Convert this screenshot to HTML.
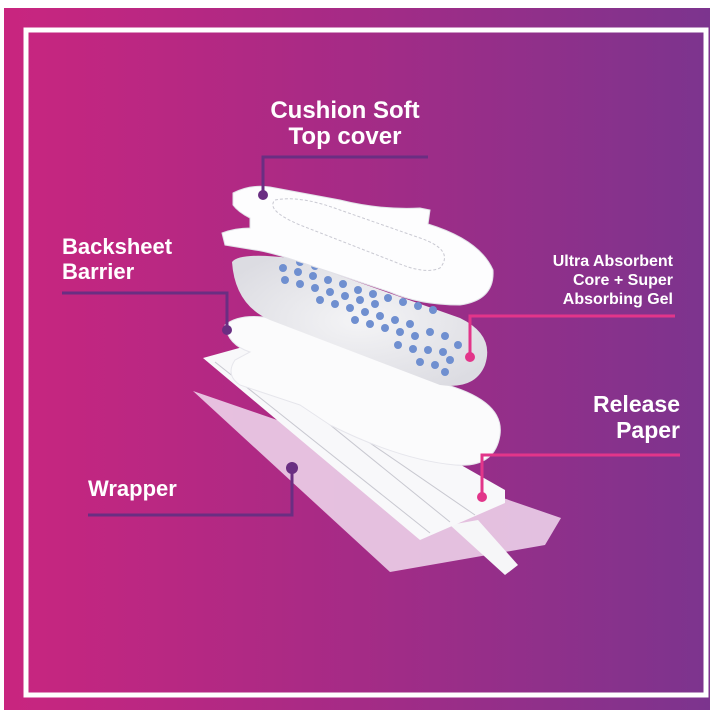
<!DOCTYPE html>
<html><head><style>
html,body{margin:0;padding:0;background:#fff;}
svg{display:block;}
text{font-family:"Liberation Sans",sans-serif;font-weight:bold;fill:#fff;}
</style></head><body>
<svg width="710" height="710" viewBox="0 0 710 710">
<defs>
<linearGradient id="bg" x1="0" y1="0" x2="1" y2="0">
<stop offset="0" stop-color="#c9257f"/><stop offset="0.5" stop-color="#a52b86"/><stop offset="1" stop-color="#7c348e"/>
</linearGradient>
<radialGradient id="core" cx="0.5" cy="0.5" r="0.6">
<stop offset="0" stop-color="#f4f4f6"/><stop offset="1" stop-color="#dcdce2"/>
</radialGradient>
</defs>
<rect x="4" y="8" width="706" height="702" fill="url(#bg)"/>
<rect x="26" y="30" width="680" height="665" fill="none" stroke="#fff" stroke-width="5"/>

<!-- wrapper -->
<polygon points="193,391 561,518 545,545 390,572" fill="#ecd0e9" opacity="0.9"/>
<!-- strip -->
<polygon points="450,525 478,520 518,565 505,575" fill="#f6f6f8"/>
<!-- release paper -->
<polygon points="203,358 250,345 505,490 505,503 420,540" fill="#f8f8fa"/>
<g stroke="#c8c8d0" stroke-width="1" fill="none">
<line x1="215" y1="362" x2="430" y2="533"/><line x1="250" y1="360" x2="450" y2="522"/><line x1="300" y1="395" x2="475" y2="515"/>
</g>
<!-- backsheet -->
<path d="M225,325 Q240,313 270,318 L440,383 Q505,400 500,435 Q495,468 455,465 Q400,460 330,425 L300,405 L240,385 Q225,375 235,360 L250,352 Q228,345 225,325 Z" fill="#fbfbfc" stroke="#e6e6ec"/>
<!-- core -->
<path d="M232,262 Q240,252 290,258 L460,318 Q495,335 485,365 Q475,390 440,385 L270,320 Q235,305 232,262 Z" fill="url(#core)"/>
<g fill="#6f8fd0">
<circle cx="300" cy="262" r="4"/><circle cx="315" cy="266" r="4"/><circle cx="283" cy="268" r="4"/><circle cx="298" cy="272" r="4"/><circle cx="313" cy="276" r="4"/><circle cx="328" cy="280" r="4"/><circle cx="343" cy="284" r="4"/>
<circle cx="285" cy="280" r="4"/><circle cx="300" cy="284" r="4"/><circle cx="315" cy="288" r="4"/><circle cx="330" cy="292" r="4"/><circle cx="345" cy="296" r="4"/><circle cx="360" cy="300" r="4"/><circle cx="375" cy="304" r="4"/>
<circle cx="320" cy="300" r="4"/><circle cx="335" cy="304" r="4"/><circle cx="350" cy="308" r="4"/><circle cx="365" cy="312" r="4"/><circle cx="380" cy="316" r="4"/><circle cx="395" cy="320" r="4"/><circle cx="410" cy="324" r="4"/>
<circle cx="358" cy="290" r="4"/><circle cx="373" cy="294" r="4"/><circle cx="388" cy="298" r="4"/><circle cx="403" cy="302" r="4"/><circle cx="418" cy="306" r="4"/><circle cx="433" cy="310" r="4"/>
<circle cx="355" cy="320" r="4"/><circle cx="370" cy="324" r="4"/><circle cx="385" cy="328" r="4"/><circle cx="400" cy="332" r="4"/><circle cx="415" cy="336" r="4"/><circle cx="430" cy="332" r="4"/><circle cx="445" cy="336" r="4"/>
<circle cx="398" cy="345" r="4"/><circle cx="413" cy="349" r="4"/><circle cx="428" cy="350" r="4"/><circle cx="443" cy="352" r="4"/><circle cx="458" cy="345" r="4"/>
<circle cx="420" cy="362" r="4"/><circle cx="435" cy="365" r="4"/><circle cx="450" cy="360" r="4"/><circle cx="445" cy="372" r="4"/>
</g>
<!-- top cover -->
<path d="M233,193 Q250,184 270,187 L340,200 Q380,210 420,208 L430,210 L428,224 Q480,240 493,270 Q495,300 460,305 Q420,305 390,292 L300,262 Q270,252 255,250 L225,245 L222,233 Q235,228 250,228 L250,218 Q238,212 233,205 Z" fill="#fdfdfe" stroke="#e2e2e8"/>
<path d="M275,200 Q300,195 340,210 L420,238 Q455,250 440,268 Q425,275 395,262 L300,225 Q265,210 275,200 Z" fill="none" stroke="#c9c9d2" stroke-dasharray="3,2"/>

<!-- leaders -->
<g fill="none" stroke-width="3">
<polyline points="428,157 263,157 263,195" stroke="#6a2e82"/>
<polyline points="62,293 227,293 227,330" stroke="#6a2e82"/>
<polyline points="675,316 470,316 470,356" stroke="#e2358a"/>
<polyline points="680,455 482,455 482,497" stroke="#e2358a"/>
<polyline points="88,515 292,515 292,470" stroke="#6a2e82"/>
</g>
<circle cx="263" cy="195" r="5" fill="#6a2e82"/>
<circle cx="227" cy="330" r="5" fill="#6a2e82"/>
<circle cx="470" cy="357" r="5" fill="#e2358a"/>
<circle cx="482" cy="497" r="5" fill="#e2358a"/>
<circle cx="292" cy="468" r="6" fill="#6a2e82"/>

<!-- labels -->
<text x="345" y="118" font-size="24" text-anchor="middle">Cushion Soft</text>
<text x="345" y="144" font-size="24" text-anchor="middle">Top cover</text>
<text x="62" y="254" font-size="22">Backsheet</text>
<text x="62" y="279" font-size="22">Barrier</text>
<text x="673" y="266" font-size="16" text-anchor="end">Ultra Absorbent</text>
<text x="673" y="285" font-size="16" text-anchor="end">Core + Super</text>
<text x="673" y="304" font-size="16" text-anchor="end">Absorbing Gel</text>
<text x="680" y="412" font-size="23" text-anchor="end">Release</text>
<text x="680" y="438" font-size="23" text-anchor="end">Paper</text>
<text x="88" y="496" font-size="22">Wrapper</text>
</svg>
</body></html>
